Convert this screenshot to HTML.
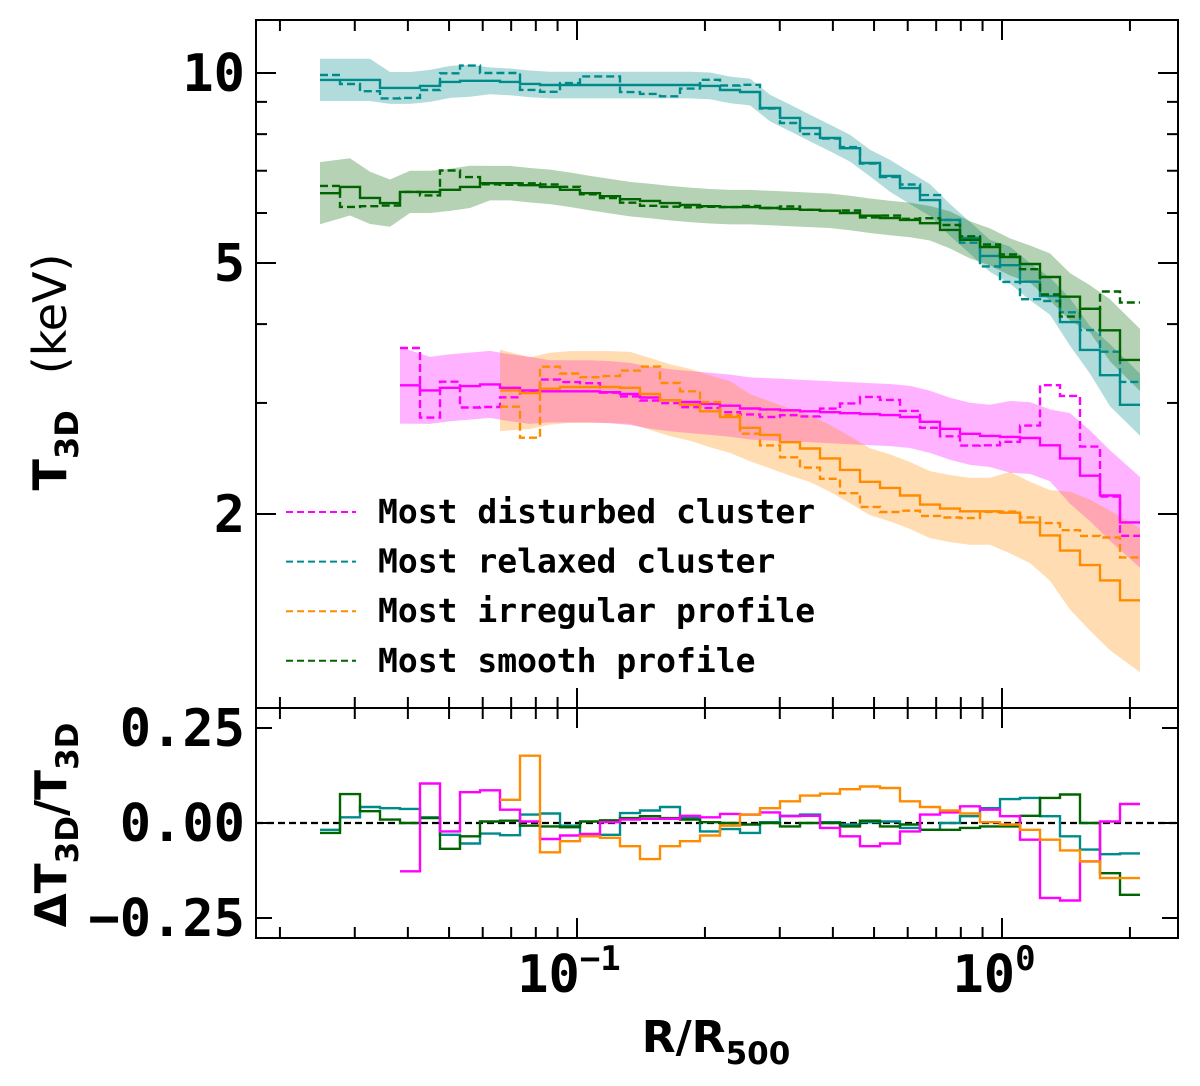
<!DOCTYPE html>
<html><head><meta charset="utf-8"><style>
html,body{margin:0;padding:0;background:#fff;}
svg{display:block;}
text{font-family:"DejaVu Sans Mono","Liberation Mono",monospace;font-weight:bold;fill:#000;}
</style></head><body>
<svg id="chart" width="1200" height="1086" viewBox="0 0 1200 1086" xmlns="http://www.w3.org/2000/svg">
<g id="bands"></g>
<g id="lines"></g>
<g id="resid"></g>
<g id="axes"></g>
</svg>
<script>
// ---- data ----
const rMin = 0.02485, rMax = 2.112; // radial range of bins (R/R500), log-uniform bins
const tealT = [9.75,9.75,9.75,9.47,9.47,9.54,9.68,9.72,9.72,9.68,9.61,9.57,9.57,9.57,9.57,9.57,9.57,9.57,9.57,9.54,9.40,9.33,8.80,8.49,8.18,7.89,7.60,7.20,6.87,6.57,6.29,5.85,5.48,5.13,4.96,4.67,4.43,4.03,3.64,3.32,2.98];
const greenT = [6.45,6.60,6.34,6.22,6.48,6.48,6.53,6.60,6.69,6.69,6.64,6.60,6.53,6.45,6.38,6.31,6.27,6.22,6.18,6.15,6.13,6.13,6.11,6.09,6.07,6.05,6.00,5.94,5.89,5.85,5.78,5.64,5.44,5.30,5.11,4.98,4.75,4.42,4.23,3.91,3.51];
const magT = [null,null,null,null,3.20,3.14,3.17,3.19,3.21,3.17,3.14,3.13,3.13,3.13,3.12,3.10,3.06,3.03,3.01,2.99,2.97,2.94,2.93,2.92,2.91,2.90,2.89,2.88,2.87,2.85,2.80,2.73,2.68,2.66,2.65,2.64,2.57,2.45,2.30,2.14,1.94];
const orT = [null,null,null,null,null,null,null,null,null,3.14,3.11,3.16,3.18,3.18,3.18,3.17,3.10,3.03,2.98,2.91,2.85,2.74,2.67,2.60,2.54,2.45,2.35,2.25,2.20,2.14,2.07,2.04,2.02,2.02,2.01,1.94,1.85,1.75,1.66,1.57,1.46];
const tealErr = [.08,.08,.08,.06,.06,.06,.06,.06,.05,.05,.05,.05,.05,.05,.05,.05,.05,.05,.05,.05,.05,.05,.05,.05,.05,.05,.05,.05,.06,.06,.06,.06,.06,.06,.07,.07,.07,.09,.09,.12,.12];
const greenErr = [.12,.11,.10,.09,.08,.08,.08,.08,.065,.065,.065,.065,.065,.065,.065,.065,.065,.065,.065,.065,.065,.065,.065,.065,.065,.065,.065,.065,.065,.065,.065,.07,.07,.07,.07,.07,.09,.09,.09,.12,.12];
const magErr = [null,null,null,null,.15,.13,.13,.13,.13,.13,.13,.12,.12,.12,.12,.12,.12,.12,.12,.12,.12,.12,.12,.12,.12,.12,.12,.12,.12,.12,.12,.12,.12,.12,.14,.14,.14,.18,.18,.18,.18];
const orErr = [null,null,null,null,null,null,null,null,null,.16,.14,.14,.14,.14,.14,.14,.14,.14,.14,.14,.14,.13,.13,.13,.13,.13,.13,.13,.13,.13,.13,.13,.13,.13,.16,.16,.18,.24,.27,.29,.30];
const tealRes = [-.018,.015,.042,.039,.037,.015,-.031,-.054,-.028,-.032,.022,.025,-.007,-.031,-.031,.026,.033,.042,.013,-.022,-.016,-.026,.002,.019,.022,.002,-.004,.002,.004,-.013,-.018,0,.018,.039,.063,.066,.018,-.035,-.07,-.082,-.08];
const greenRes = [-.026,.076,.031,.009,0,.013,-.068,-.035,.004,.006,-.007,-.009,-.011,.004,.007,.013,.018,.013,.009,.002,0,-.004,0,-.009,0,0,-.009,.006,-.009,-.004,-.018,-.018,-.013,-.009,-.009,.019,.066,.075,0,-.132,-.189];
const magRes = [null,null,null,null,-.127,.104,-.022,.081,.086,.035,.004,-.042,-.033,-.029,.002,.009,.011,.011,.019,.015,.024,.022,.028,.018,.019,-.013,-.035,-.061,-.054,-.022,.022,.028,.044,.035,.018,-.044,-.197,-.204,-.101,.004,.05];
const orRes = [null,null,null,null,null,null,null,null,null,.061,.177,-.077,-.048,-.035,-.039,-.061,-.095,-.061,-.048,-.033,-.007,.022,.039,.057,.072,.077,.089,.096,.092,.057,.042,.033,.025,.002,-.004,-.018,-.044,-.072,-.101,-.145,-.145];
const yTickMajor = [10,5,2];
const yTickMinor = [3,4,6,7,8,9];
const xTickMajor = [0.1,1];
const xTickMinor = [0.02,0.03,0.04,0.05,0.06,0.07,0.08,0.09,0.2,0.3,0.4,0.5,0.6,0.7,0.8,0.9,2];
const resTicks = [0.25,0,-0.25];
const resTickLabels = ["0.25","0.00","\u22120.25"];
const legendLabels = ["Most disturbed cluster","Most relaxed cluster","Most irregular profile","Most smooth profile"];

// ---- scales ----
const L=256,R=1178,T1=20,B1=708,T2=708,B2=938;
const X = r => 1002 + 425*Math.log10(r);
const Y = t => 73 + 631*(1-Math.log10(t));
const YR = v => 823 - 380*v;
const NS="http://www.w3.org/2000/svg";
function mk(tag, attrs, parent){const e=document.createElementNS(NS,tag);for(const k in attrs)e.setAttribute(k,attrs[k]);parent.appendChild(e);return e;}
const N = tealT.length;
const lmin=Math.log10(rMin), lw=(Math.log10(rMax)-lmin)/N;
const edgeX = i => X(Math.pow(10,lmin+i*lw));
const cenX = i => X(Math.pow(10,lmin+(i+0.5)*lw));

function stepPath(vals, yf){
  let d="";let open=false;
  for(let i=0;i<vals.length;i++){
    const v=vals[i];
    if(v==null){open=false;continue;}
    const y=yf(v).toFixed(1);
    if(!open){d+=`M${edgeX(i).toFixed(1)},${y}`;open=true;}
    else d+=`V${y}`;
    d+=`H${edgeX(i+1).toFixed(1)}`;
  }
  return d;
}
function bandPath(vals, err){
  const up=[],lo=[];
  for(let i=0;i<vals.length;i++){
    if(vals[i]==null)continue;
    let x=cenX(i);
    if(i===0||vals[i-1]==null)x=edgeX(i);
    if(i===vals.length-1)x=edgeX(i+1);
    up.push([x,Y(vals[i]*(1+err[i]))]);lo.push([x,Y(vals[i]/(1+err[i]))]);
  }
  const pts=up.concat(lo.reverse());
  return "M"+pts.map(p=>p[0].toFixed(1)+","+p[1].toFixed(1)).join("L")+"Z";
}
const series=[
  {name:"relaxed",T:tealT,E:tealErr,Rs:tealRes,c:"#008b8b",f:"rgba(0,139,139,0.3)"},
  {name:"smooth",T:greenT,E:greenErr,Rs:greenRes,c:"#006400",f:"rgba(0,100,0,0.29)"},
  {name:"disturbed",T:magT,E:magErr,Rs:magRes,c:"#ff00ff",f:"rgba(255,0,255,0.3)"},
  {name:"irregular",T:orT,E:orErr,Rs:orRes,c:"#ff8c00",f:"rgba(255,140,0,0.3)"}
];
const gB=document.getElementById("bands"),gL=document.getElementById("lines"),gR=document.getElementById("resid"),gA=document.getElementById("axes");
const clip=mk("clipPath",{id:"c1"},document.getElementById("chart"));mk("rect",{x:L,y:T1,width:R-L,height:B1-T1},clip);
gB.setAttribute("clip-path","url(#c1)");gL.setAttribute("clip-path","url(#c1)");
series.forEach(s=>{
  const b=mk("path",{d:bandPath(s.T,s.E),fill:s.f,stroke:"none"},gB);
  
  
});
series.forEach(s=>{
  // dashed profile derived from residual definition: res = (solid - dashed)/dashed
  const dashed=s.T.map((v,i)=>v==null||s.Rs[i]==null?null:v/(1+s.Rs[i]));
  const pd=mk("path",{d:stepPath(dashed,Y),fill:"none",stroke:s.c,"stroke-width":2.4,"stroke-dasharray":"8,4"},gL);
  
  
  const ps=mk("path",{d:stepPath(s.T,Y),fill:"none",stroke:s.c,"stroke-width":2.4},gL);
  
  
});
mk("line",{x1:L,x2:R,y1:YR(0),y2:YR(0),stroke:"#000","stroke-width":2.2,"stroke-dasharray":"7,4"},gR);
[series[0],series[1],series[2],series[3]].forEach(s=>{
  const p=mk("path",{d:stepPath(s.Rs,YR),fill:"none",stroke:s.c,"stroke-width":2.4},gR);
  
  
});
// frames
mk("rect",{x:L,y:T1,width:R-L,height:B1-T1,fill:"none",stroke:"#000","stroke-width":2},gA);
mk("rect",{x:L,y:T2,width:R-L,height:B2-T2,fill:"none",stroke:"#000","stroke-width":2},gA);
function tick(x1,y1,x2,y2){mk("line",{x1,y1,x2,y2,stroke:"#000","stroke-width":2},gA);}
yTickMajor.forEach(t=>{const y=Y(t);tick(L,y,L+20,y);tick(R,y,R-20,y);
  const tx=mk("text",{x:245,y:y+18,"text-anchor":"end","font-size":52},gA);tx.textContent=String(t);
  
  });
yTickMinor.forEach(t=>{const y=Y(t);tick(L,y,L+11,y);tick(R,y,R-11,y);});
[[T1,B1],[T2,B2]].forEach(([a,b])=>{
  xTickMajor.forEach(r=>{const x=X(r);tick(x,a,x,a+20);tick(x,b,x,b-20);});
  xTickMinor.forEach(r=>{const x=X(r);tick(x,a,x,a+11);tick(x,b,x,b-11);});
});
resTicks.forEach((v,i)=>{const y=YR(v);tick(L,y,L+16,y);tick(R,y,R-16,y);
  const tx=mk("text",{x:245,y:y+18,"text-anchor":"end","font-size":52},gA);tx.textContent=resTickLabels[i];
  
  });
xTickMajor.forEach((r,i)=>{const x=X(r);
  const tx=mk("text",{x:x-8,y:992,"text-anchor":"middle","font-size":52},gA);
  tx.textContent="10";
  const sp=mk("tspan",{dy:-22,"font-size":34},tx);sp.textContent=i===0?"\u22121":"0";
  
  });
const lc=["#ff00ff","#008b8b","#ff8c00","#006400"];
legendLabels.forEach((s,i)=>{const y=512+i*49.6;
  const l=mk("line",{x1:286,x2:356,y1:y,y2:y,stroke:lc[i],"stroke-width":2,"stroke-dasharray":"7,4"},gA);
  
  
  const tx=mk("text",{x:378,y:y+11,"font-size":33},gA);tx.textContent=s;
  
  });
</script>
<svg style="position:absolute;left:0;top:0" width="1200" height="1086">
<text x="716" y="1052" text-anchor="middle" font-size="44" style="font-family:'DejaVu Sans','Liberation Sans',sans-serif">R/R<tspan dy="12" font-size="31">500</tspan></text>
<text transform="translate(66,372) rotate(-90)" text-anchor="middle" font-size="46" style="font-family:'DejaVu Sans','Liberation Sans',sans-serif">T<tspan dy="12" font-size="32">3D</tspan><tspan dy="-12" font-weight="normal" dx="36">(keV)</tspan></text>
<text transform="translate(66,825) rotate(-90)" text-anchor="middle" font-size="44" style="font-family:'DejaVu Sans','Liberation Sans',sans-serif">ΔT<tspan dy="12" font-size="31">3D</tspan><tspan dy="-12">/T</tspan><tspan dy="12" font-size="31">3D</tspan></text>
</svg>
</body></html>
